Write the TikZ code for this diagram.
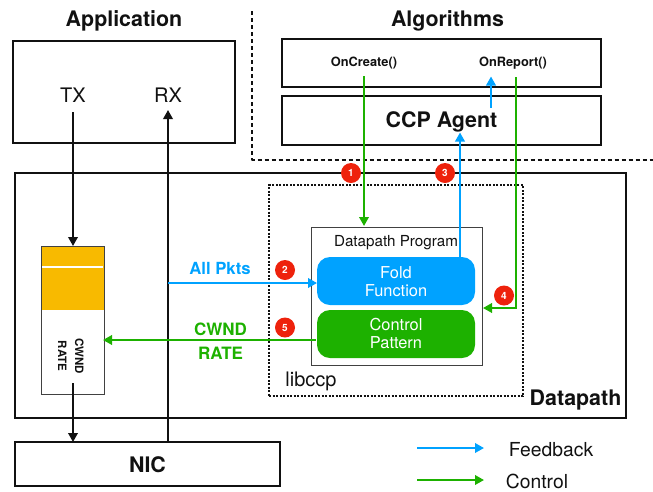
\documentclass[tikz,border=0pt]{standalone}
\usepackage{fontspec}
\setmainfont{TeX Gyre Heros}
\usetikzlibrary{arrows.meta,calc}
\definecolor{fbblue}{HTML}{00A2FF}
\definecolor{ctgreen}{HTML}{1DB100}
\definecolor{qorange}{HTML}{F8BA00}
\definecolor{numred}{HTML}{EE220C}
\definecolor{ink}{HTML}{111111}
\tikzset{
  x=1pt,y=-1pt,
  every node/.style={inner sep=0pt,outer sep=0pt,text=ink},
  plainbox/.style={draw=ink,line width=1.8pt,fill=none,inner sep=0pt},
  thinbox/.style={draw=ink!80,line width=1pt,fill=white,inner sep=0pt},
  pill/.style={rounded corners=13pt,fill=#1,inner sep=0pt},
  pilltext/.style={text=white,align=center,font=\fontsize{16.4}{18}\selectfont},
  title/.style={font=\bfseries\fontsize{21.4}{24}\selectfont},
  numdot/.style={circle,fill=numred,minimum size=20pt,text=white,font=\bfseries\fontsize{10}{11}\selectfont},
  blk/.style={draw=ink,line width=1.9pt,-{Triangle[length=9pt,width=9.5pt]}},
  blu/.style={draw=fbblue,line width=2pt,-{Triangle[length=9pt,width=9.5pt]}},
  grn/.style={draw=ctgreen,line width=2pt,-{Triangle[length=9pt,width=9.5pt]}},
}
\newcommand{\boxat}[6][]{\node[#2,minimum width=#5-#3,minimum height=#6-#4,#1] at ({(#3+#5)/2},{(#4+#6)/2})}
\begin{document}
\begin{tikzpicture}
\useasboundingbox (0,0) rectangle (653,491);
% frames
\boxat[]{plainbox}{13}{41}{235}{143} (app) {};
\boxat[]{plainbox}{15}{173}{626}{418} (dpath) {};
\boxat[]{plainbox}{15}{442}{280}{486} (nic) {};
\boxat[]{plainbox}{282}{39}{601}{87} (algs) {};
\boxat[]{plainbox}{282}{96}{601}{145} (agent) {};
\node[title] (nicl) at (147.5,465) {NIC};
\node[title] (agentl) at (441.5,122) {CCP Agent};
\draw[ink,line width=2pt,dash pattern=on 4pt off 3pt,line join=round] (252,11) -- (252,159.5) -- (653,159.5);
\node[draw=ink,line width=2pt,dash pattern=on 2pt off 1.5pt,minimum width=254pt,minimum height=211pt] (lib) at (396,290.5) {};
% titles and labels
\node[title] (tapp) at (124,21) {Application};
\node[title] (talg) at (447.5,21) {Algorithms};
\node[font=\fontsize{20}{22}\selectfont] (tx) at (73,95) {TX};
\node[font=\fontsize{20}{22}\selectfont] (rx) at (168,95) {RX};
\node[font=\bfseries\fontsize{12.8}{14}\selectfont] (onc) at (364,63.5) {OnCreate()};
\node[font=\bfseries\fontsize{12.8}{14}\selectfont] (onr) at (513,63.5) {OnReport()};
\node[font=\fontsize{20}{22}\selectfont] (lbl) at (311,381) {libccp};
\node[title] (dpl) at (575.5,400) {Datapath};
% datapath program
\boxat[]{thinbox}{311}{227}{482}{365} (prog) {};
\node[font=\fontsize{15.2}{17}\selectfont] (progl) at (396,243) {Datapath Program};
\boxat[]{pill=fbblue}{317}{257}{475}{305} (fold) {};
\boxat[]{pill=ctgreen}{317}{310}{475}{358} (ctrl) {};
\node[pilltext] (foldl) at (396,281.5) {Fold\\Function};
\node[pilltext] (ctrll) at (396,333.5) {Control\\Pattern};
% queue
\boxat[]{thinbox}{41}{246}{104}{394} (queue) {};
\fill[qorange] (41.5,246.5) rectangle (103.5,310);
\draw[white,line width=1.4pt] (42,267) -- (103,267);
\node[rotate=-90,align=center,font=\bfseries\fontsize{11.5}{17}\selectfont] (qt) at (71,356) {CWND\\RATE};
% named free ends
\coordinate (txs) at (73,112);
\coordinate (q1) at (73,246);
\coordinate (q2) at (73,383);
\coordinate (n1) at (73,442);
\coordinate (n2) at (168,441);
\coordinate (rxe) at (168,110);
\coordinate (g1s) at (364,76);
\coordinate (g1e) at (364,226);
\coordinate (b3s) at (460,257);
\coordinate (b3e) at (460,132.5);
\coordinate (b4s) at (491,108);
\coordinate (b4e) at (491,76.5);
\coordinate (g4s) at (516,77);
\coordinate (g4m) at (516,308);
\coordinate (g4e) at (483,308);
\coordinate (ap) at (168,283);
\coordinate (ape) at (317,283);
\coordinate (cws) at (316,340);
\coordinate (cwe) at (103,340);
% connectors
\draw[blk] (txs) -- (q1);
\draw[blk] (q2) -- (n1);
\draw[blk] (n2) -- (rxe);
\draw[grn] (g1s) -- (g1e);
\draw[blu] (b3s) -- (b3e);
\draw[blu] (b4s) -- (b4e);
\draw[grn,line join=miter] (g4s) -- (g4m) -- (g4e);
\draw[blu] (ap) -- (ape);
\draw[grn] (cws) -- (cwe);
% numbered dots
\node[numdot] (d1) at (351,173) {1};
\node[numdot] (d3) at (445,173) {3};
\node[numdot] (d2) at (285,270) {2};
\node[numdot] (d5) at (285,327.5) {5};
\node[numdot] (d4) at (504,295.5) {4};
% arrow labels
\node[text=fbblue,font=\bfseries\fontsize{16.7}{18}\selectfont] (lap) at (220,268.5) {All Pkts};
\node[text=ctgreen,font=\bfseries\fontsize{17}{18}\selectfont] (lcw) at (220.5,329) {CWND};
\node[text=ctgreen,font=\bfseries\fontsize{17}{18}\selectfont] (lra) at (220.5,353) {RATE};
% legend
\coordinate (lb1) at (417,448);
\coordinate (lb2) at (484,448);
\coordinate (lg1) at (417,480);
\coordinate (lg2) at (484,480);
\draw[blu] (lb1) -- (lb2);
\draw[grn] (lg1) -- (lg2);
\node[font=\fontsize{19.3}{20}\selectfont] (lf) at (551,450) {Feedback};
\node[font=\fontsize{19.3}{20}\selectfont] (lc) at (537,481) {Control};
\end{tikzpicture}
\end{document}
